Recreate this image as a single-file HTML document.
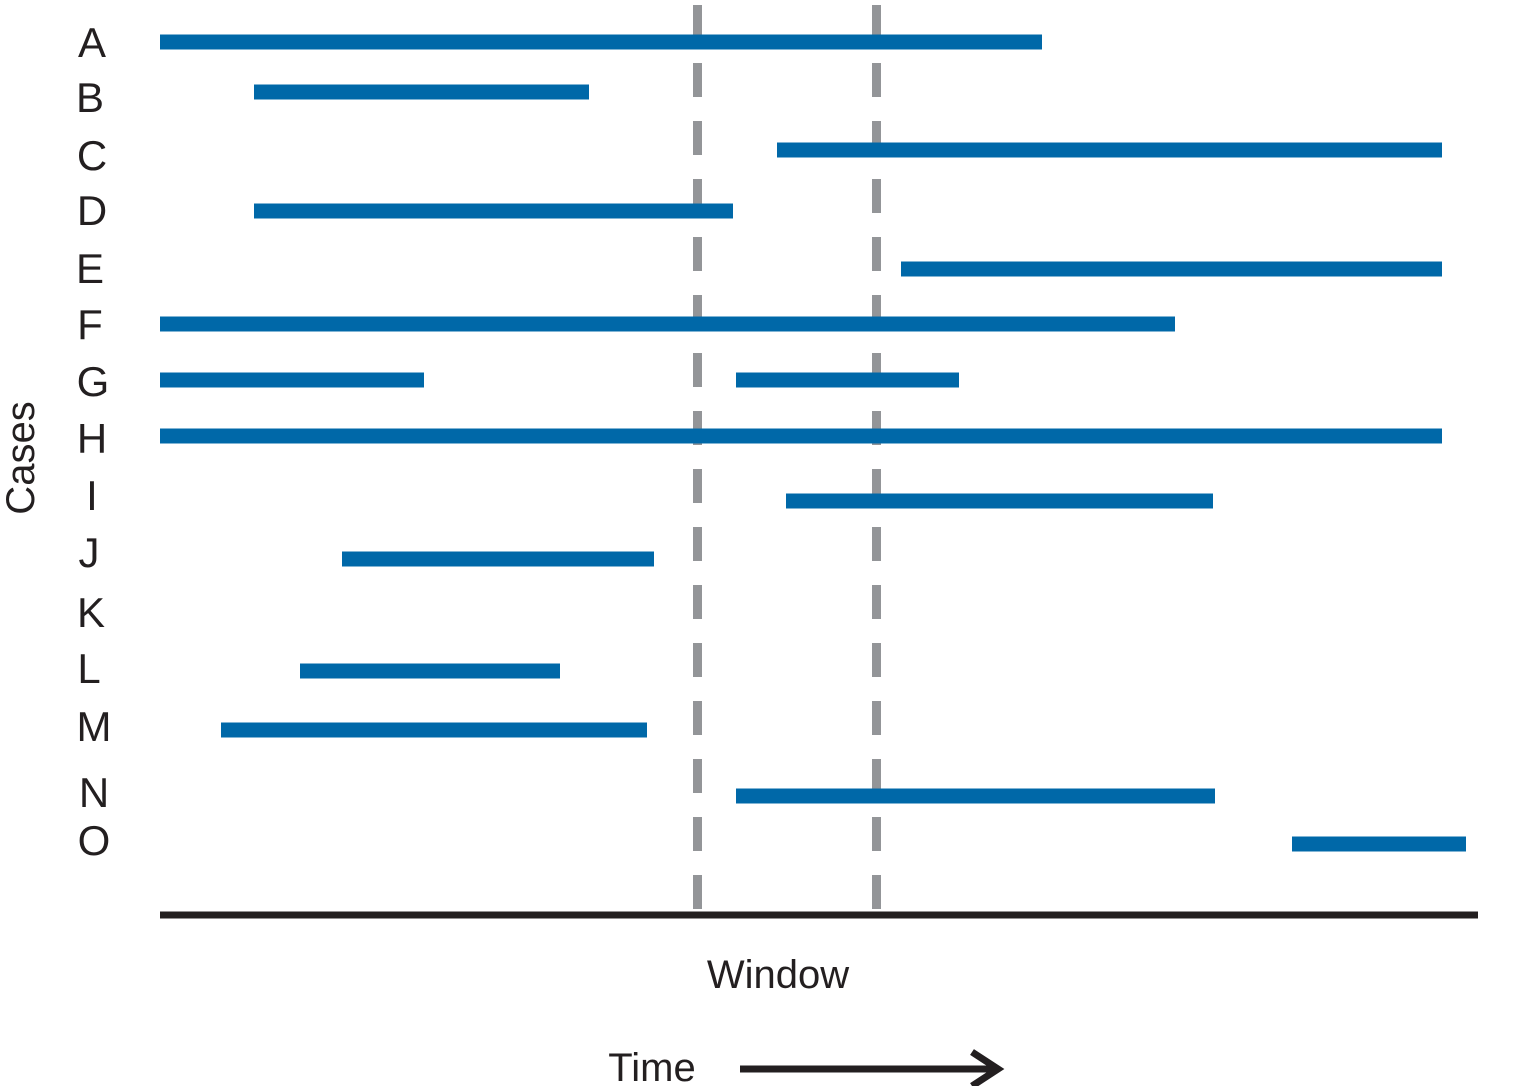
<!DOCTYPE html><html><head><style>body{margin:0;background:#fff}</style></head><body>
<svg width="1530" height="1086" xmlns="http://www.w3.org/2000/svg" font-family="Liberation Sans, sans-serif">
<g stroke="#939598" stroke-width="9" stroke-dasharray="34 24">
<line x1="697.5" y1="5" x2="697.5" y2="915"/><line x1="876.5" y1="5" x2="876.5" y2="915"/></g>
<g stroke="#0068a8" stroke-width="15">
<line x1="160" y1="42" x2="1042" y2="42"/>
<line x1="254" y1="92" x2="589" y2="92"/>
<line x1="777" y1="150" x2="1442" y2="150"/>
<line x1="254" y1="211" x2="733" y2="211"/>
<line x1="901" y1="269" x2="1442" y2="269"/>
<line x1="160" y1="324" x2="1175" y2="324"/>
<line x1="160" y1="380" x2="424" y2="380"/>
<line x1="736" y1="380" x2="959" y2="380"/>
<line x1="160" y1="436" x2="1442" y2="436"/>
<line x1="786" y1="501" x2="1213" y2="501"/>
<line x1="342" y1="559" x2="654" y2="559"/>
<line x1="300" y1="671" x2="560" y2="671"/>
<line x1="221" y1="730" x2="647" y2="730"/>
<line x1="736" y1="796" x2="1215" y2="796"/>
<line x1="1292" y1="844" x2="1466" y2="844"/>
</g>
<line x1="160" y1="915" x2="1478" y2="915" stroke="#231f20" stroke-width="7"/>
<g font-size="42" fill="#231f20" text-anchor="middle">
<text x="92" y="57">A</text><text x="90" y="112">B</text><text x="92" y="170">C</text><text x="92" y="225">D</text><text x="90" y="283">E</text><text x="90" y="339">F</text><text x="93" y="396">G</text><text x="92" y="453">H</text><text x="92" y="510">I</text><text x="89" y="567">J</text><text x="91" y="627">K</text><text x="89" y="683">L</text><text x="94" y="741">M</text><text x="94" y="807">N</text><text x="94" y="855">O</text>
<text x="778" y="988" font-size="40">Window</text>
<text x="652" y="1081" font-size="40">Time</text>
<text transform="translate(34,458) rotate(-90)" font-size="40">Cases</text>
</g>
<line x1="740" y1="1069" x2="996" y2="1069" stroke="#231f20" stroke-width="7"/>
<polyline points="972,1052 998,1069 972,1086" fill="none" stroke="#231f20" stroke-width="7"/>
</svg></body></html>
